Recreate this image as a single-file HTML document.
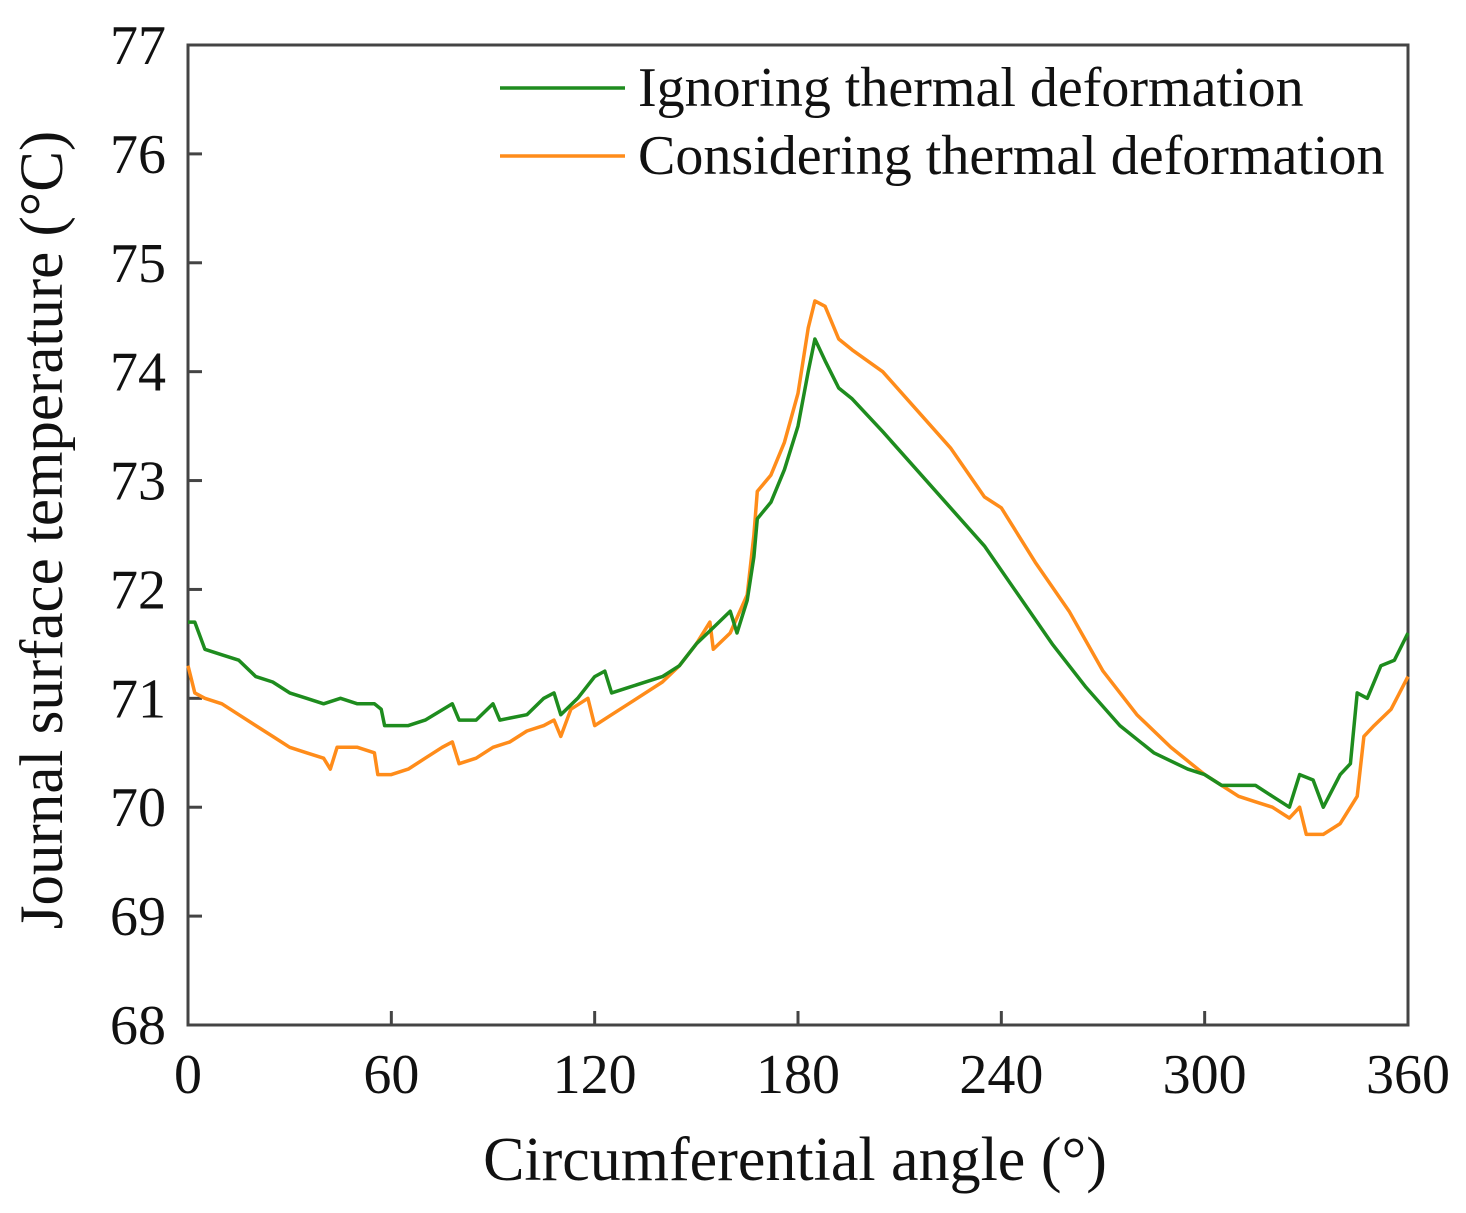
<!DOCTYPE html>
<html><head><meta charset="utf-8"><style>
html,body{margin:0;padding:0;background:#fff;}
svg{display:block;font-family:"Liberation Serif",serif;}
</style></head><body>
<svg id="chart" width="1466" height="1213">
<g id="axes"></g>
<g id="series"></g>
<g id="legend">
  <line x1="500" y1="88" x2="625" y2="88" stroke="#1e8c1e" stroke-width="3.5"/>
  <text x="638" y="106" font-size="56" fill="#111">Ignoring thermal deformation</text>
  <line x1="500" y1="156" x2="625" y2="156" stroke="#ff8c1a" stroke-width="3.5"/>
  <text x="638" y="174" font-size="56" fill="#111">Considering thermal deformation</text>
</g>
<text x="795" y="1180" font-size="62" text-anchor="middle" fill="#111">Circumferential angle (°)</text>
<text transform="translate(62,530) rotate(-90)" font-size="61" text-anchor="middle" fill="#111">Journal surface temperature (°C)</text>
</svg>
<script>
const xTicks=[0,60,120,180,240,300,360];
const yTicks=[68,69,70,71,72,73,74,75,76,77];
const greenX=[0,2,5,10,15,20,25,30,35,40,45,50,55,57,58,65,70,78,80,85,90,92,100,105,108,110,115,120,123,125,130,140,145,150,155,160,162,165,167,168,172,176,180,183,185,188,192,196,205,215,225,235,245,255,265,275,285,295,300,305,310,315,320,325,328,332,335,340,343,345,348,352,356,360];
const greenY=[71.7,71.7,71.45,71.4,71.35,71.2,71.15,71.05,71.0,70.95,71.0,70.95,70.95,70.9,70.75,70.75,70.8,70.95,70.8,70.8,70.95,70.8,70.85,71.0,71.05,70.85,71.0,71.2,71.25,71.05,71.1,71.2,71.3,71.5,71.65,71.8,71.6,71.9,72.3,72.65,72.8,73.1,73.5,74.0,74.3,74.1,73.85,73.75,73.45,73.1,72.75,72.4,71.95,71.5,71.1,70.75,70.5,70.35,70.3,70.2,70.2,70.2,70.1,70.0,70.3,70.25,70.0,70.3,70.4,71.05,71.0,71.3,71.35,71.6];
const orangeX=[0,2,5,10,15,20,25,30,35,40,42,44,50,55,56,60,65,70,75,78,80,85,90,95,100,105,108,110,113,118,120,125,130,140,145,150,154,155,160,165,167,168,172,176,180,183,185,188,192,196,205,215,225,235,240,250,260,270,280,290,300,305,310,315,320,325,328,330,335,340,345,347,350,355,360];
const orangeY=[71.3,71.05,71.0,70.95,70.85,70.75,70.65,70.55,70.5,70.45,70.35,70.55,70.55,70.5,70.3,70.3,70.35,70.45,70.55,70.6,70.4,70.45,70.55,70.6,70.7,70.75,70.8,70.65,70.9,71.0,70.75,70.85,70.95,71.15,71.3,71.5,71.7,71.45,71.6,71.95,72.5,72.9,73.05,73.35,73.8,74.4,74.65,74.6,74.3,74.2,74.0,73.65,73.3,72.85,72.75,72.25,71.8,71.25,70.85,70.55,70.3,70.2,70.1,70.05,70.0,69.9,70.0,69.75,69.75,69.85,70.1,70.65,70.75,70.9,71.2];
const L=188,R=1408,T=45,B=1025;
const sx=v=>L+(v-0)/360*(R-L);
const sy=v=>B-(v-68)/9*(B-T);
const NS="http://www.w3.org/2000/svg";
const axes=document.getElementById('axes');
function mk(tag,attrs,parent){const e=document.createElementNS(NS,tag);for(const k in attrs)e.setAttribute(k,attrs[k]);parent.appendChild(e);return e;}
const frame=mk('rect',{x:L,y:T,width:R-L,height:B-T,fill:'none',stroke:'#444','stroke-width':3},axes);


xTicks.forEach(v=>{
  const t=mk('line',{x1:sx(v),x2:sx(v),y1:B,y2:B-14,stroke:'#444','stroke-width':3},axes);
  
  
  const l=mk('text',{x:sx(v),y:B+68,'font-size':56,'text-anchor':'middle',fill:'#111'},axes);
  l.textContent=v;
  
  
});
yTicks.forEach(v=>{
  const t=mk('line',{x1:L,x2:L+14,y1:sy(v),y2:sy(v),stroke:'#444','stroke-width':3},axes);
  
  
  const l=mk('text',{x:L-22,y:sy(v)+19,'font-size':56,'text-anchor':'end',fill:'#111'},axes);
  l.textContent=v;
  
  
});
const series=document.getElementById('series');
function line(xs,ys,color,name){
  const d=xs.map((x,i)=>(i?'L':'M')+sx(x).toFixed(1)+' '+sy(ys[i]).toFixed(1)).join(' ');
  const p=mk('path',{d:d,fill:'none',stroke:color,'stroke-width':3.5,'stroke-linejoin':'round'},series);
  
  
}
line(orangeX,orangeY,'#ff8c1a','line-considering');
line(greenX,greenY,'#1e8c1e','line-ignoring');
</script>
</body></html>
